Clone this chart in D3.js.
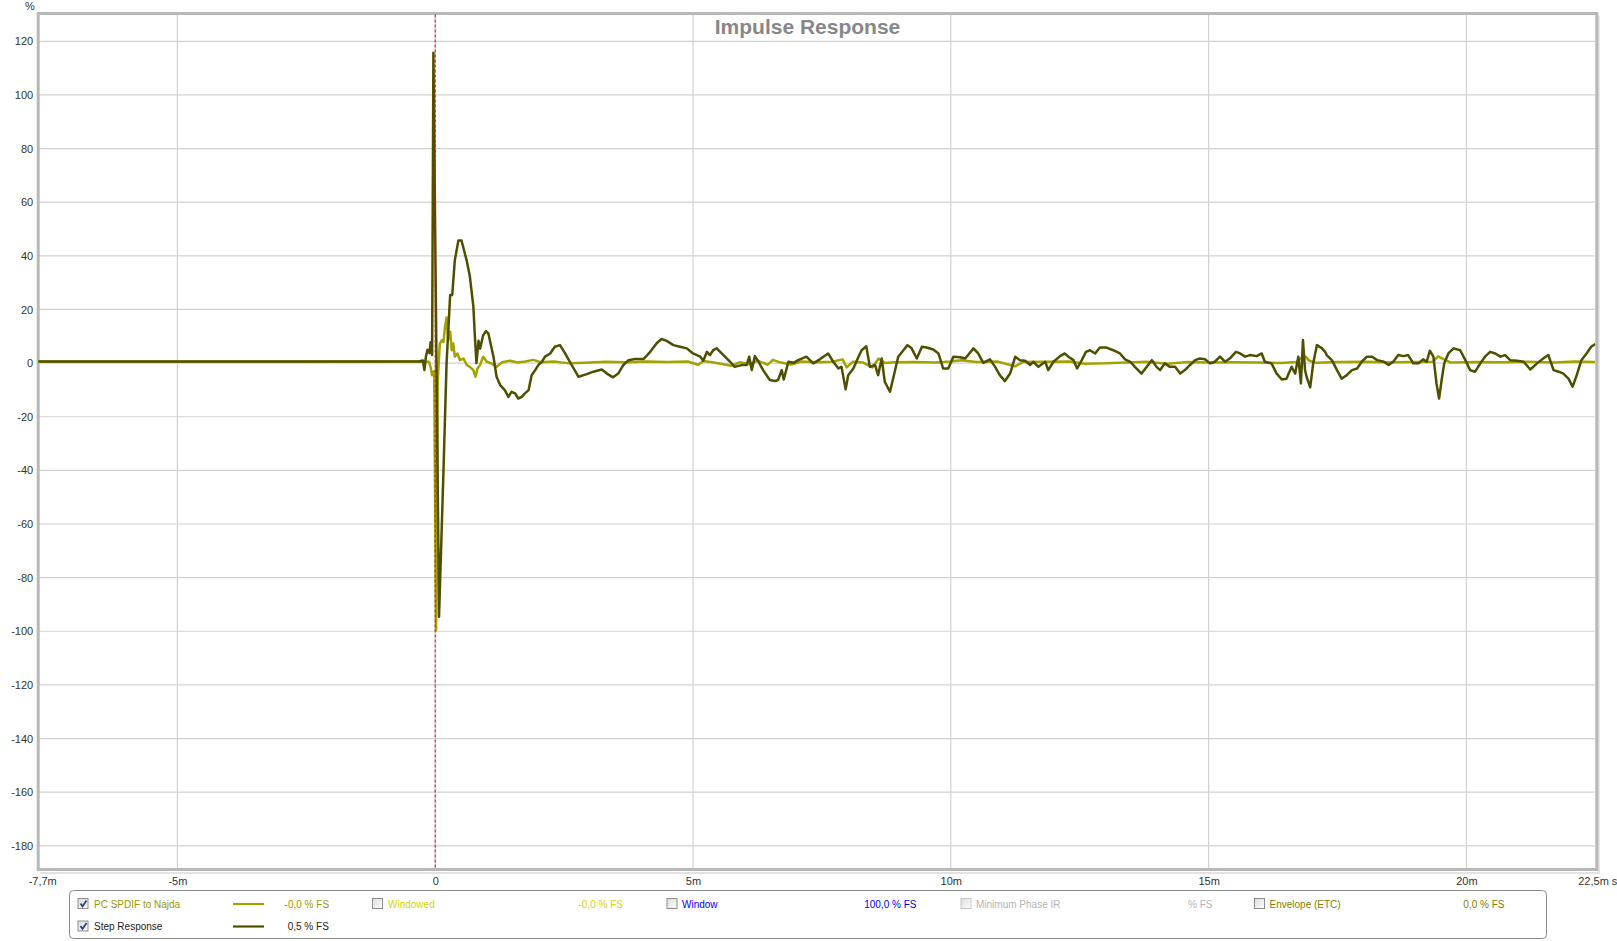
<!DOCTYPE html>
<html>
<head>
<meta charset="utf-8">
<script src="https://cdn.jsdelivr.net/npm/d3@7"></script>
<style>
  html, body { margin: 0; padding: 0; background: #ffffff; }
  svg { display: block; font-family: "Liberation Sans", Arial, sans-serif; }
</style>
</head>
<body>
<svg id="chart" width="1617" height="941"></svg>
<script>
// ---------------- DATA ----------------
const chartTitle = "Impulse Response";
const yUnit = "%";
const yTicks = [120, 100, 80, 60, 40, 20, 0, -20, -40, -60, -80, -100, -120, -140, -160, -180];
const xTickValues = [-7.7, -5, 0, 5, 10, 15, 20, 22.5];
const xTickLabels = ["-7,7m", "-5m", "0", "5m", "10m", "15m", "20m", "22,5m s"];
const xGridValues = [-5, 0, 5, 10, 15, 20];
const xDomain = [-7.7, 22.5];
const yDomain = [-188.84, 130.37];
const markerTime = 0;

// Impulse response "PC SPDIF to Najda" : [time ms, %]
const impulseSeries = [
  [-7.7, 0.5], [-0.12, 0.5], [-0.09, -1.5], [-0.06, -4.5], [-0.02, -3], [0.016, -99.6], [0.05, -6],
  [0.09, 7.3], [0.13, 8.6], [0.16, 7.9], [0.19, 13.5], [0.22, 17], [0.25, 8.6], [0.29, 11.7],
  [0.32, 4.8], [0.35, 7.3], [0.38, 2.4], [0.43, 3.6], [0.48, 1.1], [0.55, 1.7], [0.61, -0.7],
  [0.67, -1.4], [0.74, -2.6], [0.78, -5.1], [0.82, -2.0], [0.87, -0.7], [0.93, 2.4], [1.0, 0.5],
  [1.1, -0.2], [1.19, -1.4], [1.3, 0.3], [1.45, 0.9], [1.6, 0.2], [1.75, 0.6], [1.9, 1.2],
  [2.05, 0.3], [2.3, 0.6], [2.6, -0.1], [2.9, 0.1], [3.3, 0.5], [3.7, 0.3], [4.1, 0.6], [4.5, 0.4],
  [4.9, 0.6], [5.1, -0.6], [5.2, 0.8], [5.4, 0.2], [5.75, -1.0], [5.9, 0.3], [6.1, -0.4],
  [6.25, 0.9], [6.45, -0.6], [6.55, 1.2], [6.7, 0.2], [6.9, -0.5], [7.1, 0.6], [7.4, 0.3],
  [7.7, 0.5], [7.9, 1.4], [7.98, -1.6], [8.1, 0.5], [8.3, 0.2], [8.48, -1.6], [8.6, 1.7],
  [8.72, 0.0], [8.9, 0.3], [9.3, 0.4], [9.7, 0.2], [10.0, 0.6], [10.2, 1.1], [10.5, 0.4],
  [10.9, 0.6], [11.1, -0.4], [11.25, -1.2], [11.4, 0.4], [11.8, 0.5], [12.3, 0.6], [12.6, -0.2],
  [13.0, -0.1], [13.4, 0.2], [13.8, 0.5], [14.2, -0.2], [14.6, 0.4], [15.0, 0.2], [15.5, 0.3],
  [16.0, 0.2], [16.4, 0.0], [16.7, 0.4], [16.8, 1.9], [16.88, 2.4], [16.95, 0.9], [17.1, 0.1],
  [17.5, 0.4], [18.0, 0.5], [18.5, 0.3], [19.0, 0.4], [19.35, 0.5], [19.45, 2.5], [19.55, 1.5],
  [19.7, 0.2], [20.2, 0.4], [20.7, 0.3], [21.2, 0.5], [21.7, 0.2], [22.1, 0.6], [22.5, 0.4]
];

// Step response : [time ms, %]
const stepSeries = [
  [-7.7, 0.6], [-3.0, 0.6], [-0.30, 0.7], [-0.24, 1.0], [-0.21, -2.6], [-0.18, 2.4], [-0.15, 5.0],
  [-0.11, 3.7], [-0.09, 7.8], [-0.06, 3.0], [-0.035, 115.7], [0.074, -94.6], [0.16, -40.3],
  [0.22, 0], [0.29, 25.4], [0.33, 25.4], [0.38, 38.3], [0.45, 45.7], [0.51, 45.7], [0.61, 38.3],
  [0.67, 32.6], [0.74, 21.1], [0.77, 9.7], [0.80, 0], [0.84, 8.3], [0.87, 5.4], [0.93, 10.4],
  [0.985, 11.9], [1.03, 11.1], [1.13, 2.4], [1.19, -5.1], [1.26, -8.2], [1.35, -10.1], [1.42, -12.6],
  [1.48, -10.7], [1.55, -11.3], [1.61, -13.2], [1.68, -12.6], [1.74, -11.3], [1.81, -10.1],
  [1.87, -4.5], [1.94, -2.6], [2.0, -0.75], [2.07, 0.5], [2.13, 2.4], [2.23, 3.6], [2.32, 6.1],
  [2.42, 6.7], [2.52, 3.6], [2.61, 0.5], [2.78, -5.1], [2.94, -4.1], [3.07, -3.2], [3.23, -2.4],
  [3.33, -3.9], [3.45, -5.3], [3.55, -3.9], [3.65, -0.7], [3.75, 1.1], [3.87, 1.5], [4.04, 1.5],
  [4.17, 4.2], [4.30, 7.5], [4.39, 9.0], [4.49, 8.3], [4.62, 6.7], [4.75, 6.1], [4.88, 5.5],
  [5.0, 3.6], [5.14, 2.4], [5.2, 0.9], [5.27, 4.2], [5.33, 3.0], [5.39, 4.8], [5.46, 5.5],
  [5.59, 3.0], [5.72, 0.5], [5.81, -1.4], [5.94, -0.75], [6.04, -0.75], [6.09, 2.4], [6.14, -2.6],
  [6.2, 2.6], [6.27, 0.5], [6.36, -2.6], [6.49, -6.3], [6.59, -6.7], [6.65, -6.3], [6.72, -2.6],
  [6.76, -6.1], [6.85, 0.5], [6.95, 0.1], [7.04, 1.1], [7.2, 2.4], [7.33, -0.1], [7.46, 1.4],
  [7.62, 3.6], [7.72, 0.5], [7.82, -2.0], [7.88, -1.4], [7.96, -9.8], [8.01, -4.5], [8.11, -2.0],
  [8.21, 2.4], [8.27, 4.8], [8.36, 6.3], [8.43, -1.4], [8.53, -0.7], [8.59, -4.5], [8.66, 1.7],
  [8.72, -7.0], [8.82, -10.7], [8.89, -5.1], [8.98, 2.4], [9.08, 4.8], [9.16, 6.7], [9.24, 5.5],
  [9.34, 1.7], [9.44, 6.1], [9.53, 5.8], [9.66, 5.1], [9.76, 3.6], [9.85, -2.0], [9.95, -2.0],
  [10.05, 2.4], [10.18, 2.2], [10.28, 1.7], [10.44, 5.5], [10.53, 3.6], [10.63, 0.1], [10.76, 1.4],
  [10.86, -1.4], [10.95, -4.5], [11.05, -6.7], [11.15, -3.9], [11.25, 2.4], [11.34, 1.1],
  [11.44, 0.9], [11.54, -0.7], [11.6, 0.5], [11.7, -1.4], [11.83, 0.5], [11.89, -2.6], [11.99, 0.5],
  [12.12, 2.6], [12.21, 3.6], [12.28, 2.4], [12.38, 1.1], [12.45, -2.0], [12.54, 1.1], [12.62, 4.2],
  [12.7, 4.8], [12.8, 3.6], [12.89, 5.8], [13.02, 5.8], [13.15, 4.8], [13.28, 3.6], [13.38, 1.4],
  [13.48, 0.5], [13.57, -1.4], [13.7, -3.9], [13.8, -1.4], [13.9, 1.1], [13.99, -1.4], [14.06, -2.6],
  [14.15, -0.1], [14.25, -1.4], [14.35, -1.4], [14.45, -3.9], [14.54, -2.6], [14.64, -0.7],
  [14.74, 1.1], [14.83, 1.7], [14.93, 1.4], [15.03, -0.1], [15.12, 0.5], [15.22, 2.4], [15.32, 0.5],
  [15.41, 1.7], [15.53, 4.2], [15.61, 3.6], [15.71, 2.4], [15.8, 3.0], [15.93, 2.6], [16.03, 3.6],
  [16.09, 0.5], [16.22, -0.1], [16.32, -3.9], [16.42, -6.1], [16.51, -5.8], [16.61, -1.4],
  [16.68, -3.9], [16.74, 2.4], [16.79, -7.6], [16.83, 8.6], [16.87, -2.6], [16.9, -5.1],
  [16.97, -9.0], [17.03, 0.0], [17.1, 6.7], [17.2, 5.5], [17.26, 4.2], [17.29, 3.0], [17.39, 1.1],
  [17.49, -2.6], [17.58, -5.8], [17.68, -4.5], [17.78, -2.6], [17.88, -2.0], [17.97, 0.5],
  [18.07, 2.4], [18.17, 2.4], [18.27, 1.1], [18.4, 0.5], [18.49, -0.7], [18.58, 0.5], [18.68, 3.0],
  [18.78, 2.6], [18.87, 3.0], [18.97, -0.1], [19.07, -0.1], [19.16, 1.4], [19.23, 0.5], [19.29, 4.6],
  [19.36, 2.4], [19.42, -7.6], [19.47, -13.2], [19.52, -6.3], [19.57, -0.1], [19.65, 3.6],
  [19.75, 5.5], [19.88, 4.8], [19.98, 1.1], [20.07, -2.6], [20.17, -3.2], [20.27, -0.1], [20.36, 2.4],
  [20.46, 4.2], [20.56, 3.6], [20.66, 2.4], [20.75, 3.0], [20.85, 1.1], [20.98, 0.9], [21.11, 0.5],
  [21.24, -2.4], [21.37, -0.1], [21.49, 1.7], [21.59, 3.0], [21.69, -2.6], [21.79, -3.2],
  [21.88, -3.9], [21.98, -5.8], [22.06, -8.8], [22.14, -4.5], [22.23, 1.1], [22.33, 3.6],
  [22.42, 6.1], [22.5, 7.1]
];

// Legend entries
const legendNames = ["PC SPDIF to Najda", "Windowed", "Window", "Minimum Phase IR", "Envelope (ETC)", "Step Response"];
const legendValues = ["-0,0 % FS", "-0,0 % FS", "100,0 % FS", "% FS", "0,0 % FS", "0,5 % FS"];
const legendChecked = [true, false, false, false, false, true];

// ---------------- STYLE / LAYOUT ----------------
const W = 1617, H = 941;
const plot = { left: 38.2, right: 1595.3, top: 13.5, bottom: 869.5 };
const colImpulse = "#a3a300";
const colStep = "#4f4f00";
const legendColors = ["#999900", "#d6d600", "#0000ff", "#b4b4b4", "#808000", "#222222"];
const legendLineColors = [colImpulse, null, null, null, null, colStep];
const legendPos = [
  { cb: 77.5, name: 94, line: [233, 264], val: 284.6, row: 0 },
  { cb: 372, name: 388, line: null, val: 578.5, row: 0 },
  { cb: 666.5, name: 682, line: null, val: 864.2, row: 0 },
  { cb: 960.5, name: 976, line: null, val: 1188, row: 0 },
  { cb: 1254, name: 1269.5, line: null, val: 1463.3, row: 0 },
  { cb: 77.5, name: 94, line: [233, 264], val: 287.7, row: 1 }
];
const rowY = [904, 926.5];

const svg = d3.select("#chart");
svg.append("rect").attr("width", W).attr("height", H).attr("fill", "#ffffff");

const defs = svg.append("defs");
const grad = defs.append("linearGradient").attr("id", "cbg").attr("x1", 0).attr("y1", 0).attr("x2", 1).attr("y2", 1);
grad.append("stop").attr("offset", "0%").attr("stop-color", "#dcdcdc");
grad.append("stop").attr("offset", "100%").attr("stop-color", "#ffffff");
defs.append("clipPath").attr("id", "plotclip").append("rect")
  .attr("x", plot.left).attr("y", plot.top)
  .attr("width", plot.right - plot.left).attr("height", plot.bottom - plot.top);

const x = d3.scaleLinear().domain(xDomain).range([plot.left, plot.right]);
const y = d3.scaleLinear().domain(yDomain).range([plot.bottom, plot.top]);

// Grid
const grid = svg.append("g");
grid.selectAll("line.h").data(yTicks).enter().append("line")
  .attr("x1", plot.left).attr("x2", plot.right)
  .attr("y1", d => y(d)).attr("y2", d => y(d))
  .attr("stroke", "#d2d2d2").attr("stroke-width", 1.2);
grid.selectAll("line.v").data(xGridValues).enter().append("line")
  .attr("y1", plot.top).attr("y2", plot.bottom)
  .attr("x1", d => x(d)).attr("x2", d => x(d))
  .attr("stroke", "#d2d2d2").attr("stroke-width", 1.2);

// Frame shadow + frame
svg.append("line").attr("x1", plot.right + 3.5).attr("x2", plot.right + 3.5)
  .attr("y1", plot.top + 2).attr("y2", plot.bottom + 3.5).attr("stroke", "#e2e2e2").attr("stroke-width", 2);
svg.append("line").attr("x1", plot.left + 2).attr("x2", plot.right + 4.5)
  .attr("y1", plot.bottom + 3.5).attr("y2", plot.bottom + 3.5).attr("stroke", "#e2e2e2").attr("stroke-width", 2);
svg.append("rect").attr("x", plot.left).attr("y", plot.top)
  .attr("width", plot.right - plot.left + 1.5).attr("height", plot.bottom - plot.top)
  .attr("fill", "none").attr("stroke", "#b8b8b8").attr("stroke-width", 3);

// Lines
const lineGen = d3.line().x(d => x(d[0])).y(d => y(d[1]));
const lines = svg.append("g").attr("clip-path", "url(#plotclip)");
lines.append("path").datum(impulseSeries).attr("d", lineGen)
  .attr("fill", "none").attr("stroke", colImpulse).attr("stroke-width", 2.5).attr("stroke-linejoin", "round");
lines.append("path").datum(stepSeries).attr("d", lineGen)
  .attr("fill", "none").attr("stroke", colStep).attr("stroke-width", 2.5).attr("stroke-linejoin", "round");

// Red dashed marker
svg.append("line").attr("x1", x(markerTime)).attr("x2", x(markerTime))
  .attr("y1", plot.top + 1).attr("y2", plot.bottom)
  .attr("stroke", "#ff0000").attr("stroke-width", 1).attr("stroke-dasharray", "3,2");

// Axes
const yAxis = d3.axisLeft(y).tickValues(yTicks).tickSize(0).tickPadding(4).tickFormat(d => String(d));
const gy = svg.append("g").attr("transform", `translate(${plot.left - 1},0)`).call(yAxis);
gy.select(".domain").remove();
gy.selectAll("text").attr("font-size", 11).attr("fill", "#333").attr("font-family", "Liberation Sans, Arial, sans-serif");

const xAxis = d3.axisBottom(x).tickValues(xTickValues).tickSize(0).tickPadding(8)
  .tickFormat((d, i) => xTickLabels[i]);
const gx = svg.append("g").attr("transform", `translate(0,${plot.bottom})`).call(xAxis);
gx.select(".domain").remove();
gx.selectAll("text").attr("font-size", 11).attr("fill", "#333").attr("font-family", "Liberation Sans, Arial, sans-serif")
  .attr("dx", (d, i) => i === 0 ? 4 : (i === xTickValues.length - 1 ? 2 : 0));

// Unit label
svg.append("text").attr("x", 30).attr("y", 9.5).attr("text-anchor", "middle")
  .attr("font-size", 11).attr("fill", "#333").text(yUnit);

// Title
svg.append("text").attr("x", 807.5).attr("y", 33.5).attr("text-anchor", "middle")
  .attr("font-size", 21).attr("font-weight", "bold").attr("fill", "#878787").text(chartTitle);

// Legend
svg.append("rect").attr("x", 69.5).attr("y", 890.5).attr("width", 1477).attr("height", 48)
  .attr("rx", 4).attr("ry", 4).attr("fill", "#ffffff").attr("stroke", "#8a8a8a").attr("stroke-width", 1);

const lg = svg.append("g");
legendNames.forEach((name, i) => {
  const p = legendPos[i];
  const cy = rowY[p.row];
  const disabled = (i === 3);
  lg.append("rect").attr("x", p.cb + 0.5).attr("y", cy - 5.5).attr("width", 10).attr("height", 10)
    .attr("fill", "url(#cbg)").attr("stroke", disabled ? "#c8c8c8" : "#8c8c8c").attr("stroke-width", 1);
  if (legendChecked[i]) {
    lg.append("path")
      .attr("d", `M${p.cb + 3},${cy - 0.5} L${p.cb + 5},${cy + 2.5} L${p.cb + 9},${cy - 3.5}`)
      .attr("fill", "none").attr("stroke", "#2a3f8f").attr("stroke-width", 1.8);
  }
  lg.append("text").attr("x", p.name).attr("y", cy + 3.6)
    .attr("font-size", 10).attr("fill", legendColors[i]).text(name);
  if (p.line && legendLineColors[i]) {
    lg.append("line").attr("x1", p.line[0]).attr("x2", p.line[1]).attr("y1", cy).attr("y2", cy)
      .attr("stroke", legendLineColors[i]).attr("stroke-width", 2.2);
  }
  lg.append("text").attr("x", p.val).attr("y", cy + 3.6)
    .attr("font-size", 10).attr("fill", legendColors[i]).text(legendValues[i]);
});
</script>
</body>
</html>
